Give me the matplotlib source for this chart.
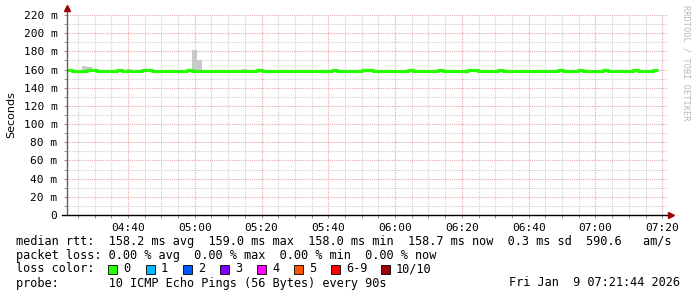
import matplotlib
matplotlib.use("Agg")
import matplotlib.pyplot as plt
import matplotlib.patches as patches
import numpy as np

# time axis in minutes of the day, samples every 90 s starting 04:21:44
start_min = 4 * 60 + 21 + 44 / 60.0
step_min = 1.5
end_min = start_min + 180

# median rtt per sample (ms)
median_rtt = [
    159.1, 158.2, 158.2, 158.2, 159.1, 159.1, 158.2, 158.2, 158.2, 158.2,
    159.1, 158.2, 158.2, 158.2, 158.2, 159.1, 159.1, 158.2, 158.2, 158.2,
    158.2, 158.2, 158.2, 158.2, 159.1, 158.2, 158.2, 158.2, 158.2, 158.2,
    158.2, 158.2, 158.2, 158.2, 158.2, 158.2, 158.2, 158.2, 159.1, 158.2,
    158.2, 158.2, 158.2, 158.2, 158.2, 158.2, 158.2, 158.2, 158.2, 158.2,
    158.2, 158.2, 158.2, 159.1, 158.2, 158.2, 158.2, 158.2, 158.2, 159.1,
    159.1, 158.2, 158.2, 158.2, 158.2, 158.2, 158.2, 158.2, 159.1, 158.2,
    158.2, 158.2, 158.2, 158.2, 159.1, 158.2, 158.2, 158.2, 158.2, 158.2,
    159.1, 159.1, 158.2, 158.2, 158.2, 158.2, 159.1, 158.2, 158.2, 158.2,
    158.2, 158.2, 158.2, 158.2, 158.2, 158.2, 158.2, 158.2, 159.1, 158.2,
    158.2, 158.2, 159.1, 158.2, 158.2, 158.2, 158.2, 159.1, 158.2, 158.2,
    158.2, 158.2, 158.2, 159.1, 158.2, 158.2, 158.2, 159.1,
]

# smoke (max ping) where it shows above the median
smoke_idx = [3, 4, 12, 25, 26, 35]
smoke_top = [164.0, 163.0, 160.5, 181.5, 170.8, 160.5]

loss_labels = ["0", "1", "2", "3", "4", "5", "6-9", "10/10"]
loss_colors = ["#26ff00", "#00b8ff", "#0059ff", "#7e00ff",
               "#ff00ff", "#ff5500", "#ff0000", "#a10000"]

y_ticks = list(range(0, 221, 20))
x_tick_labels = ["04:40", "05:00", "05:20", "05:40", "06:00",
                 "06:20", "06:40", "07:00", "07:20"]

mono = "DejaVu Sans Mono"
W, H = 697, 297
fig = plt.figure(figsize=(W / 100, H / 100), dpi=100)
ax = fig.add_axes([67 / W, 82 / H, 601 / W, 200 / H])

t = start_min + step_min * np.arange(len(median_rtt) + 1)

# smoke
for i, top in zip(smoke_idx, smoke_top):
    ax.bar(t[i], top - median_rtt[i], bottom=median_rtt[i], width=step_min,
           align="edge", color="#c8c8c8", linewidth=0, zorder=2)

# median line
ax.plot(t, median_rtt + [median_rtt[-1]], drawstyle="steps-post",
        color=loss_colors[0], lw=2.3, zorder=3, solid_capstyle="butt")

ax.set_xlim(start_min, end_min)
ax.set_ylim(0, 220)

major_x = [280 + 20 * k for k in range(len(x_tick_labels))]
ax.set_xticks(major_x)
ax.set_xticklabels(x_tick_labels, fontfamily=mono, fontsize=8)
ax.set_xticks(np.arange(265, 442, 5), minor=True)
ax.set_yticks(y_ticks)
ax.set_yticklabels([("%d m" % v) if v else "0" for v in y_ticks],
                   fontfamily=mono, fontsize=8)
ax.set_yticks(np.arange(10, 221, 20), minor=True)

ax.tick_params(which="both", length=2, width=0.6, color="#808080", pad=5)
ax.tick_params(axis="x", which="major", pad=4)

ax.grid(which="minor", color="#d0d0d0", linestyle=(0, (1, 1)), lw=0.8)
ax.grid(which="major", color="#e8a8a8", linestyle=(0, (1, 1)), lw=0.8)
ax.set_axisbelow(True)

for s in ["top", "right", "left", "bottom"]:
    ax.spines[s].set_visible(False)

# axes with arrows
ax.plot([0, 0], [0, 1.035], transform=ax.transAxes, color="#606060",
        lw=1, clip_on=False, zorder=4)
ax.plot([-0.008, 1.005], [0, 0], transform=ax.transAxes, color="black",
        lw=1, clip_on=False, zorder=4)
ax.plot([0], [1.035], marker="^", ms=4, color="#a00000",
        transform=ax.transAxes, clip_on=False, zorder=5)
ax.plot([1.005], [0], marker=">", ms=4, color="#a00000",
        transform=ax.transAxes, clip_on=False, zorder=5)

fig.text(11 / W, 1 - 115 / H, "Seconds", rotation=90, ha="center",
         va="center", fontsize=8)
fig.text(686 / W, 1 - 5 / H, "RRDTOOL / TOBI OETIKER", rotation=270,
         ha="center", va="top", fontsize=6.2, color="#b8b8b8",
         fontfamily=mono)

fs = 8.55
def line(y, s, x=16, ha="left"):
    fig.text(x / W, 1 - y / H, s, fontfamily=mono, fontsize=fs,
             ha=ha, va="center")

line(241, "median rtt:  158.2 ms avg  159.0 ms max  158.0 ms min  "
          "158.7 ms now  0.3 ms sd  590.6   am/s")
line(255, "packet loss: 0.00 % avg  0.00 % max  0.00 % min  0.00 % now")
line(269, "loss color:")
line(283, "probe:       10 ICMP Echo Pings (56 Bytes) every 90s")
line(283, "Fri Jan  9 07:21:44 2026", x=680, ha="right")

sq_x = [108, 146, 183, 220, 257, 294, 331, 381]
for xs, lab, col in zip(sq_x, loss_labels, loss_colors):
    fig.patches.append(patches.Rectangle((xs / W, 1 - 274 / H), 9 / W, 9 / H,
                                         transform=fig.transFigure,
                                         facecolor=col, edgecolor="black",
                                         lw=0.6))
    line(269, lab, x=xs + 15)

fig.savefig("out.png", dpi=100)
